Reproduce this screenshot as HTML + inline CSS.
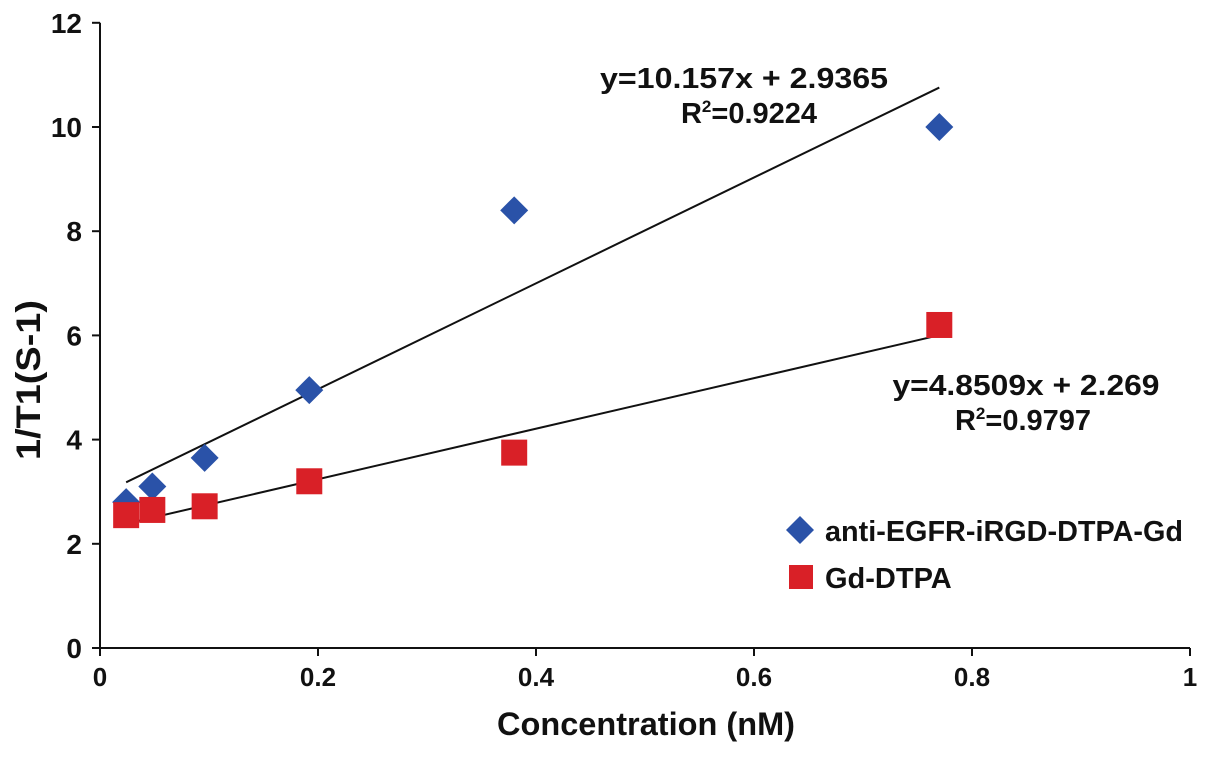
<!DOCTYPE html>
<html><head><meta charset="utf-8"><style>
html,body{margin:0;padding:0;background:#fff;}
svg text{font-family:"Liberation Sans",Arial,sans-serif;font-weight:bold;fill:#111;}
</style></head><body>
<svg id="chart" width="1205" height="757" xmlns="http://www.w3.org/2000/svg"></svg>
<script>
const xs = [0.024, 0.048, 0.096, 0.192, 0.38, 0.77];
const egfrVals = [2.8, 3.1, 3.65, 4.95, 8.4, 10.0];
const gdVals = [2.55, 2.65, 2.72, 3.2, 3.75, 6.2];
const xTicks = [0, 0.2, 0.4, 0.6, 0.8, 1];
const xTickLabels = ["0", "0.2", "0.4", "0.6", "0.8", "1"];
const yTicks = [0, 2, 4, 6, 8, 10, 12];
const egfrFit = [10.157, 2.9365];
const gdFit = [4.8509, 2.269];

const NS = "http://www.w3.org/2000/svg";
const svg = document.getElementById("chart");
const X = v => 100 + v * 1090;
const Y = v => 648 - v * 52.1;
function mk(tag, attrs, parent) {
  const e = document.createElementNS(NS, tag);
  for (const k in attrs) e.setAttribute(k, attrs[k]);
  (parent || svg).appendChild(e);
  return e;
}
let a = mk("line", {x1: X(0), y1: Y(0), x2: X(0), y2: Y(12), stroke: "#111", "stroke-width": 2});


a = mk("line", {x1: X(0), y1: Y(0), x2: X(1), y2: Y(0), stroke: "#111", "stroke-width": 2});


yTicks.forEach(v => {
  const t = mk("line", {x1: X(0) - 8, y1: Y(v), x2: X(0), y2: Y(v), stroke: "#111", "stroke-width": 2});
  
  
  const l = mk("text", {x: 82, y: Y(v) + 10, "text-anchor": "end", "font-size": 28});
  l.textContent = String(v);
  
  
});
xTicks.forEach((v, i) => {
  const t = mk("line", {x1: X(v), y1: Y(0), x2: X(v), y2: Y(0) + 8, stroke: "#111", "stroke-width": 2});
  
  
  const l = mk("text", {x: X(v), y: 686, "text-anchor": "middle", "font-size": 26});
  l.textContent = xTickLabels[i];
  
  
});
let tt = mk("text", {x: 646, y: 735, "text-anchor": "middle", "font-size": 32, textLength: 298, lengthAdjust: "spacingAndGlyphs"});
tt.textContent = "Concentration (nM)";


tt = mk("text", {x: 40, y: 380, "text-anchor": "middle", "font-size": 34, textLength: 160, lengthAdjust: "spacingAndGlyphs", transform: "rotate(-90 40 380)"});
tt.textContent = "1/T1(S-1)";



function fitLine(f, name) {
  const x0 = xs[0], x1 = xs[xs.length - 1];
  const l = mk("line", {x1: X(x0), y1: Y(f[0] * x0 + f[1]), x2: X(x1), y2: Y(f[0] * x1 + f[1]), stroke: "#111", "stroke-width": 2});
  
  
}
fitLine(egfrFit, 'egfr-trendline');
fitLine(gdFit, 'gd-trendline');

xs.forEach((x, i) => {
  const cx = X(x), cy = Y(egfrVals[i]);
  const d = mk("polygon", {points: `${cx},${cy-14} ${cx+14},${cy} ${cx},${cy+14} ${cx-14},${cy}`, fill: "#2a52a8"});
  
  
});
xs.forEach((x, i) => {
  const cx = X(x), cy = Y(gdVals[i]);
  const r = mk("rect", {x: cx - 13, y: cy - 13, width: 26, height: 26, fill: "#d92027"});
  
  
});

function eq(x, y1, w1, x2, w2, eqText, r2, name) {
  const t = mk("text", {x: x, y: y1, "text-anchor": "middle", "font-size": 29, textLength: w1, lengthAdjust: "spacingAndGlyphs"});
  t.textContent = eqText;
  
  
  const t2 = mk("text", {x: x2, y: y1 + 35, "text-anchor": "middle", "font-size": 29});
  t2.innerHTML = 'R<tspan font-size="17" dy="-11">2</tspan><tspan dy="11">=' + r2 + '</tspan>';
  
  
}
eq(744, 88, 288, 749, 146, "y=10.157x + 2.9365", "0.9224", 'egfr');
eq(1026, 395, 267, 1023, 150, "y=4.8509x + 2.269", "0.9797", 'gd');

const g = mk("g", {});


let li = mk("polygon", {points: "800,516 814,530 800,544 786,530", fill: "#2a52a8"}, g);


li = mk("text", {x: 825, y: 541, "font-size": 29, textLength: 358, lengthAdjust: "spacingAndGlyphs"}, g);
li.textContent = "anti-EGFR-iRGD-DTPA-Gd";


li = mk("rect", {x: 789, y: 565, width: 24, height: 24, fill: "#d92027"}, g);


li = mk("text", {x: 825, y: 588, "font-size": 29}, g);
li.textContent = "Gd-DTPA";


</script>
</body></html>
